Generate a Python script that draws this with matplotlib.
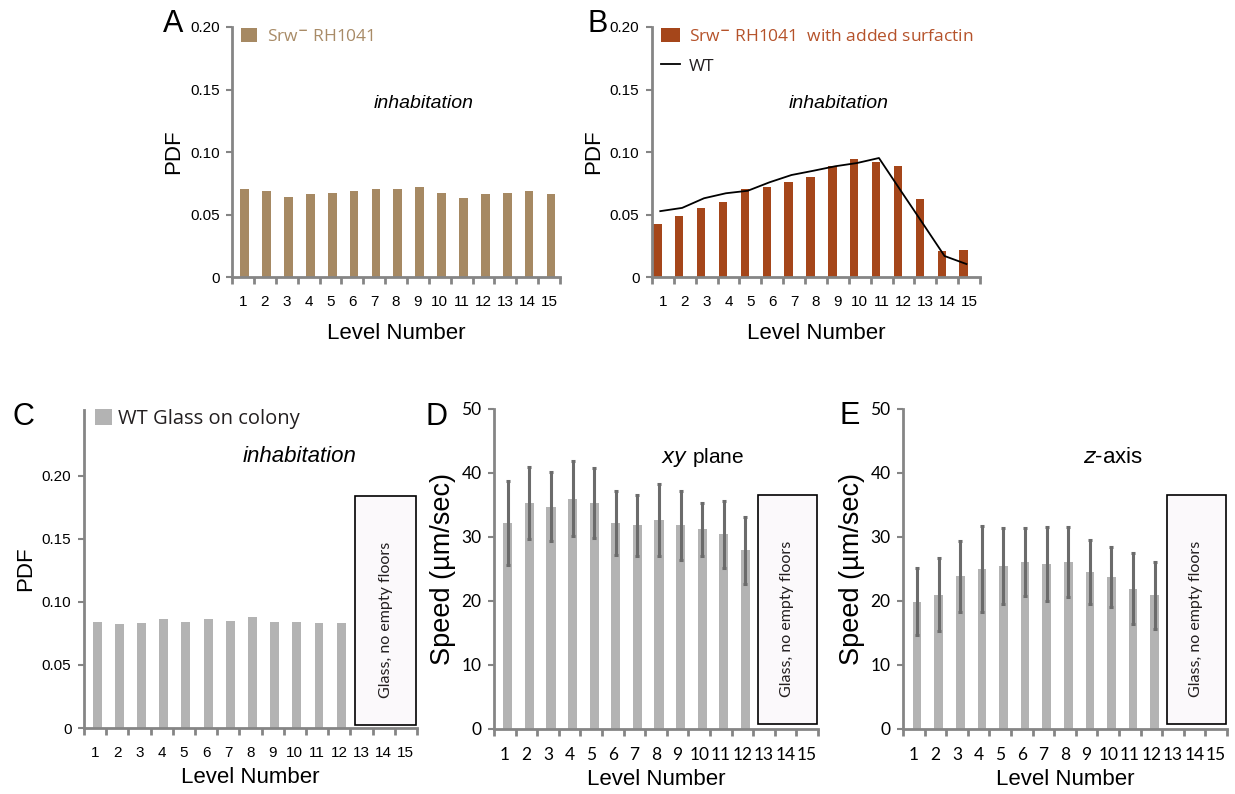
import matplotlib
matplotlib.use("Agg")
import matplotlib.pyplot as plt
import numpy as np
from matplotlib.patches import Rectangle

levels = np.arange(1, 16)
level_labels = [str(i) for i in levels]

# A: Srw- RH1041
pdf_srw = [0.0704, 0.0688, 0.0643, 0.0664, 0.0675, 0.0688, 0.0701, 0.0701,
           0.0721, 0.0672, 0.0632, 0.0664, 0.0672, 0.0685, 0.0664]
# B: Srw- RH1041 with added surfactin, plus WT line
pdf_surf = [0.0426, 0.0492, 0.0553, 0.0604, 0.0705, 0.0718, 0.0763, 0.0803,
            0.0891, 0.0941, 0.0920, 0.0888, 0.0624, 0.0211, 0.0216]
pdf_wt = [0.0527, 0.0553, 0.0630, 0.0670, 0.0690, 0.0758, 0.0816, 0.0850,
          0.0886, 0.0912, 0.0952, 0.0690, 0.0430, 0.0168, 0.0104]
# C: WT glass on colony (levels 1-12)
glass_levels = np.arange(1, 13)
pdf_glass = [0.0841, 0.0828, 0.0830, 0.0860, 0.0841, 0.0860, 0.0847, 0.0878,
             0.0841, 0.0841, 0.0830, 0.0830]
# D: xy plane speed
speed_xy = [32.2, 35.3, 34.7, 36.0, 35.3, 32.2, 31.8, 32.7, 31.8, 31.2, 30.4, 27.9]
err_xy = [6.6, 5.6, 5.4, 5.8, 5.5, 5.0, 4.7, 5.6, 5.4, 4.1, 5.3, 5.3]
# E: z-axis speed
speed_z = [19.9, 21.0, 23.9, 25.0, 25.5, 26.1, 25.8, 26.1, 24.5, 23.8, 21.9, 20.9]
err_z = [5.25, 5.7, 5.55, 6.75, 5.95, 5.25, 5.75, 5.45, 5.0, 4.7, 5.55, 5.25]

tan = "#A68963"
rust = "#A5461A"
gray_bar = "#B3B3B3"
axis_gray = "#858585"
err_gray = "#6B6B6B"

arial = ["Liberation Sans", "DejaVu Sans"]
calibri = ["Lato", "DejaVu Sans"]
myriad = ["Open Sans", "DejaVu Sans"]

fig = plt.figure(figsize=(12.35, 7.94), dpi=100)

def style_axis(ax, ylim, yticks, yticklabels, ylabel, tickfont, labelsize, ylabelsize, xpad):
    ax.set_xlim(0.5, 15.5)
    ax.set_ylim(*ylim)
    for s in ["top", "right"]:
        ax.spines[s].set_visible(False)
    for s in ["left", "bottom"]:
        ax.spines[s].set_color(axis_gray)
        ax.spines[s].set_linewidth(2)
    ax.set_xticks(levels)
    ax.set_xticklabels(level_labels, family=tickfont, fontsize=labelsize)
    ax.set_xticks(np.arange(0.5, 16, 1), minor=True)
    ax.tick_params(axis="x", which="major", length=0, pad=13)
    ax.tick_params(axis="x", which="minor", length=5, width=2, color=axis_gray)
    ax.set_yticks(yticks)
    ax.set_yticklabels(yticklabels, family=tickfont, fontsize=labelsize)
    ax.tick_params(axis="y", length=4, width=1.5, color=axis_gray, pad=5)
    ax.set_xlabel("Level Number", family=arial, fontsize=16, labelpad=xpad)
    ax.set_ylabel(ylabel, family=arial, fontsize=ylabelsize)

def glass_box(ax, y0, y1, font):
    ax.add_patch(Rectangle((12.72, y0), 15.45 - 12.72, y1 - y0, facecolor="#FBF9FB",
                           edgecolor="black", linewidth=1.2, zorder=3))
    ax.text((12.72 + 15.45) / 2, y0 + (y1 - y0) * 0.46, "Glass, no empty floors",
            rotation=90, ha="center", va="center", family=font, fontsize=11.5,
            color="#231F20", zorder=4)

pdf_ticks = [0, 0.05, 0.10, 0.15, 0.20]
pdf_ticklabels = ["0", "0.05", "0.10", "0.15", "0.20"]
speed_ticks = [0, 10, 20, 30, 40, 50]
speed_ticklabels = [str(v) for v in speed_ticks]

# Panel A
axA = fig.add_axes([0.1879, 0.6511, 0.2656, 0.3149])
barsA = axA.bar(levels + 0.08, pdf_srw, width=0.4, color=tan)
style_axis(axA, (0, 0.20), pdf_ticks, pdf_ticklabels, "PDF", arial, 11, 16, 10)
axA.text(9.28, 0.139, "inhabitation", style="italic", family=arial, fontsize=14,
         ha="center", va="center")
axA.legend([barsA], ["Srw$^{\\mathbf{-}}$ RH1041"], loc="upper left",
           bbox_to_anchor=(-0.02, 1.06), frameon=False, prop={"family": myriad, "size": 12.5},
           labelcolor="#A88B67", handlelength=0.9, handleheight=0.9, handletextpad=0.6)

# Panel B
axB = fig.add_axes([0.5279, 0.6511, 0.2656, 0.3149])
barsB = axB.bar(levels - 0.25, pdf_surf, width=0.38, color=rust)
lineB, = axB.plot(levels - 0.12, pdf_wt, color="black", linewidth=1.3)
style_axis(axB, (0, 0.20), pdf_ticks, pdf_ticklabels, "PDF", arial, 11, 16, 10)
axB.text(9.05, 0.139, "inhabitation", style="italic", family=arial, fontsize=14,
         ha="center", va="center")
legB = axB.legend([barsB, lineB], ["Srw$^{\\mathbf{-}}$ RH1041  with added surfactin", "WT"],
                  loc="upper left", bbox_to_anchor=(-0.02, 1.06), frameon=False,
                  prop={"family": myriad, "size": 12.5}, handlelength=1.1, handleheight=0.9,
                  handletextpad=0.5, labelspacing=0.75)
legB.get_texts()[0].set_color("#B5522A")
legB.get_texts()[1].set_color("#231F20")

# Panel C
axC = fig.add_axes([0.0680, 0.0831, 0.2696, 0.4005])
barsC = axC.bar(glass_levels + 0.09, pdf_glass, width=0.4, color=gray_bar)
style_axis(axC, (0, 0.252), pdf_ticks, pdf_ticklabels, "PDF", arial, 11, 16, 5)
glass_box(axC, 0.0026, 0.184, calibri)
axC.text(10.23, 0.215, "inhabitation", style="italic", family=arial, fontsize=16,
         ha="center", va="center")
axC.legend([barsC], ["WT Glass on colony"], loc="upper left", bbox_to_anchor=(-0.02, 1.06),
           frameon=False, prop={"family": myriad, "size": 14.5}, labelcolor="#231F20",
           handlelength=0.8, handleheight=0.8, handletextpad=0.3)

# Panel D
axD = fig.add_axes([0.4000, 0.0819, 0.2623, 0.4030])
axD.bar(glass_levels + 0.14, speed_xy, width=0.42, color=gray_bar, yerr=err_xy,
        error_kw={"ecolor": err_gray, "elinewidth": 2.2, "capsize": 1.5, "capthick": 2.2})
style_axis(axD, (0, 50), speed_ticks, speed_ticklabels, "Speed (\u00b5m/sec)", calibri, 12.5, 19.5, 4)
glass_box(axD, 0.8, 36.5, calibri)
axD.text(10.18, 42.35, "$\\it{xy}$ plane", family=arial, fontsize=15, ha="center", va="center")

# Panel E
axE = fig.add_axes([0.7312, 0.0819, 0.2623, 0.4030])
axE.bar(glass_levels + 0.15, speed_z, width=0.4, color=gray_bar, yerr=err_z,
        error_kw={"ecolor": err_gray, "elinewidth": 2.2, "capsize": 1.5, "capthick": 2.2})
style_axis(axE, (0, 50), speed_ticks, speed_ticklabels, "Speed (\u00b5m/sec)", calibri, 12.5, 19.5, 4)
glass_box(axE, 0.8, 36.5, calibri)
axE.text(10.22, 42.35, "$\\it{z}$-axis", family=arial, fontsize=16, ha="center", va="center")

# panel letters
for letter, x, y in [("A", 163, 24), ("B", 587, 24), ("C", 12, 417), ("D", 426, 417), ("E", 839, 416)]:
    fig.text(x / 1235, 1 - y / 794, letter, family=arial, fontsize=22, ha="left", va="center")

fig.savefig("out.png", dpi=100)
